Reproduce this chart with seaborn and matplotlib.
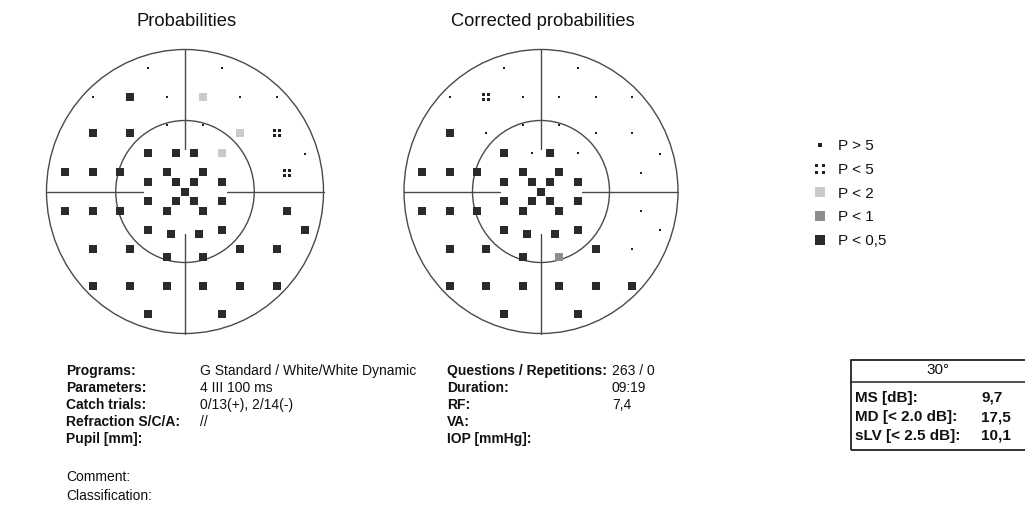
import matplotlib
matplotlib.use("Agg")
import matplotlib.pyplot as plt
from matplotlib.path import Path
from matplotlib.patches import Circle, Rectangle
from matplotlib.lines import Line2D
import pandas as pd
import seaborn as sns

sns.set_theme(style="white")
plt.rcParams["font.family"] = ["Liberation Sans", "DejaVu Sans"]
plt.rcParams["text.color"] = "#111111"

# ---- data -------------------------------------------------------------
# G-program test locations (degrees of visual field, x to the right, y up)
x_deg = [-8, 8,
         -20, -12, -4, 4, 12, 20,
         -20, -12, -4, 4, 12, 20,
         -8, -2, 2, 8, 26,
         -26, -20, -14, -4, 4, 22,
         -8, -2, 2, 8,
         0,
         -8, -2, 2, 8,
         -26, -20, -14, -4, 4, 22,
         -8, -3, 3, 8, 26,
         -20, -12, 12, 20,
         -4, 4,
         -20, -12, -4, 4, 12, 20,
         -8, 8]
y_deg = [26, 26,
         20, 20, 20, 20, 20, 20,
         12.4, 12.4, 14, 14, 12.4, 12.4,
         8.2, 8.2, 8.2, 8.2, 8,
         4.2, 4.2, 4.2, 4.2, 4.2, 4,
         2, 2, 2, 2,
         0,
         -2, -2, -2, -2,
         -4.1, -4.1, -4.1, -4.1, -4.1, -4.1,
         -8.1, -9, -9, -8.1, -8.2,
         -12.1, -12.1, -12.1, -12.1,
         -13.9, -13.9,
         -20, -20, -20, -20, -20, -20,
         -25.8, -25.8]

classes = ["P > 5", "P < 5", "P < 2", "P < 1", "P < 0,5"]

# probability class per location (index into `classes`)
prob_class = [0, 0,
              0, 4, 0, 2, 0, 0,
              4, 4, 0, 0, 2, 1,
              4, 4, 4, 2, 0,
              4, 4, 4, 4, 4, 1,
              4, 4, 4, 4,
              4,
              4, 4, 4, 4,
              4, 4, 4, 4, 4, 4,
              4, 4, 4, 4, 4,
              4, 4, 4, 4,
              4, 4,
              4, 4, 4, 4, 4, 4,
              4, 4]
corr_class = [0, 0,
              0, 1, 0, 0, 0, 0,
              4, 0, 0, 0, 0, 0,
              4, 0, 4, 0, 0,
              4, 4, 4, 4, 4, 0,
              4, 4, 4, 4,
              4,
              4, 4, 4, 4,
              4, 4, 4, 4, 4, 0,
              4, 4, 4, 4, 0,
              4, 4, 4, 0,
              4, 3,
              4, 4, 4, 4, 4, 4,
              4, 4]

panel_titles = ["Probabilities", "Corrected probabilities"]

info_left_labels = ["Programs:", "Parameters:", "Catch trials:", "Refraction S/C/A:", "Pupil [mm]:"]
info_left_values = ["G Standard / White/White Dynamic", "4 III 100 ms", "0/13(+), 2/14(-)", "//", ""]
info_right_labels = ["Questions / Repetitions:", "Duration:", "RF:", "VA:", "IOP [mmHg]:"]
info_right_values = ["263 / 0", "09:19", "7,4", "", ""]
notes = ["Comment:", "Classification:"]

stats_header = "30°"
stat_labels = ["MS [dB]:", "MD [< 2.0 dB]:", "sLV [< 2.5 dB]:"]
stat_values = ["9,7", "17,5", "10,1"]

# ---- styles -----------------------------------------------------------
def four_dots():
    verts, codes = [], []
    h = 0.15
    for cx in (-0.35, 0.35):
        for cy in (-0.35, 0.35):
            sq = [(cx - h, cy - h), (cx + h, cy - h), (cx + h, cy + h), (cx - h, cy + h), (cx - h, cy - h)]
            verts += sq
            codes += [Path.MOVETO, Path.LINETO, Path.LINETO, Path.LINETO, Path.CLOSEPOLY]
    return Path(verts, codes)

FOUR_DOTS = four_dots()
style = {
    "P > 5":   dict(marker="s", s=3.0, color="#202020", ms=2.2),
    "P < 5":   dict(marker=FOUR_DOTS, s=26, color="#202020", ms=7.5),
    "P < 2":   dict(marker="s", s=30, color="#cbcbcb", ms=7.9),
    "P < 1":   dict(marker="s", s=30, color="#8e8e8e", ms=7.9),
    "P < 0,5": dict(marker="s", s=34, color="#2a2a2a", ms=7.9),
}
LINE = "#4a4a4a"
BODY = 10
SIDE = 11

W, H = 1025, 530
fig = plt.figure(figsize=(W / 100, H / 100), dpi=100)
fig.patch.set_facecolor("white")


def field_axes(cx, cy, rx, ry):
    hx, hy = rx * 31 / 30, ry * 31 / 30
    ax = fig.add_axes([(cx - hx) / W, (H - cy - hy) / H, 2 * hx / W, 2 * hy / H])
    ax.set_xlim(-31, 31)
    ax.set_ylim(-31, 31)
    ax.axis("off")
    return ax


panels = [
    (field_axes(185, 191.5, 138.5, 142), prob_class, 187),
    (field_axes(541, 191.5, 137, 142), corr_class, 543),
]

for (ax, cls, tx), title in zip(panels, panel_titles):
    for r in (15, 30):
        ax.add_patch(Circle((0, 0), r, fill=False, lw=1.0, ec=LINE))
    ax.plot([0, 0], [9, 30], color=LINE, lw=1.0)
    ax.plot([0, 0], [-30, -9], color=LINE, lw=1.0)
    ax.plot([-30, -9], [0, 0], color=LINE, lw=1.0)
    ax.plot([9, 30], [0, 0], color=LINE, lw=1.0)
    df = pd.DataFrame({"x": x_deg, "y": y_deg, "cls": [classes[c] for c in cls]})
    for name in classes:
        sub = df[df["cls"] == name]
        if sub.empty:
            continue
        st = style[name]
        sns.scatterplot(data=sub, x="x", y="y", ax=ax, marker=st["marker"], s=st["s"],
                        color=st["color"], linewidth=0, legend=False, zorder=3)
    ax.set_xlim(-31, 31)
    ax.set_ylim(-31, 31)
    fig.text(tx / W, 1 - 21 / H, title, ha="center", va="center", fontsize=13.2)

# legend of probability classes
handles = [Line2D([], [], linestyle="", marker=style[c]["marker"], markersize=style[c]["ms"],
                  color=style[c]["color"], markeredgewidth=0) for c in classes]
fig.legend(handles, classes, loc="upper left", bbox_to_anchor=(812.4 / W, 1 - 139.4 / H),
           frameon=False, fontsize=SIDE, handlelength=1.0, handletextpad=0.67,
           labelspacing=0.63, borderpad=0, borderaxespad=0, labelcolor="#111111")

# examination details in four tab-stop columns
col1, col2, col3, col4 = 66, 200, 447, 612
row_y = [371, 388, 405, 422, 439]
for yy, lab, val in zip(row_y, info_left_labels, info_left_values):
    fig.text(col1 / W, 1 - yy / H, lab, fontweight="bold", va="center", fontsize=BODY)
    fig.text(col2 / W, 1 - yy / H, val, va="center", fontsize=BODY)
for yy, lab, val in zip(row_y, info_right_labels, info_right_values):
    fig.text(col3 / W, 1 - yy / H, lab, fontweight="bold", va="center", fontsize=BODY)
    fig.text(col4 / W, 1 - yy / H, val, va="center", fontsize=BODY)
for yy, lab in zip([477, 496], notes):
    fig.text(col1 / W, 1 - yy / H, lab, va="center", fontsize=BODY)

# global indices box
bx0, by0, bx1, by1 = 851, 360, 1040, 450
fig.add_artist(Rectangle((bx0 / W, 1 - by1 / H), (bx1 - bx0) / W, (by1 - by0) / H,
                         transform=fig.transFigure, fill=False, lw=1.3, ec="#222222"))
fig.add_artist(Line2D([bx0 / W, bx1 / W], [1 - 382 / H, 1 - 382 / H],
                      transform=fig.transFigure, lw=1.1, color="#222222"))
fig.text(938 / W, 1 - 370.5 / H, stats_header, ha="center", va="center", fontsize=SIDE)
for yy, lab, val in zip([398, 417, 436], stat_labels, stat_values):
    fig.text(855 / W, 1 - yy / H, lab, fontweight="bold", va="center", fontsize=SIDE)
    fig.text(981 / W, 1 - yy / H, val, fontweight="bold", va="center", fontsize=SIDE)

fig.savefig("out.png", dpi=100, facecolor="white")
